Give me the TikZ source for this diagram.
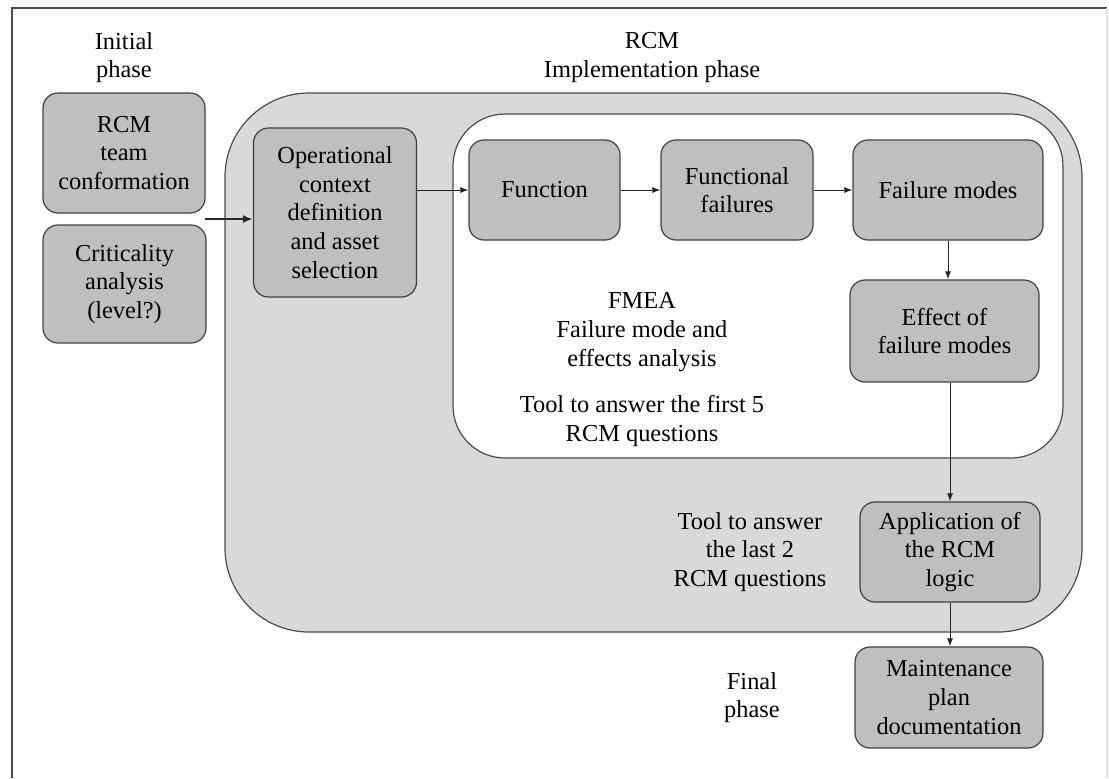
\documentclass[tikz,border=0pt]{standalone}
\usepackage{fontspec}
\IfFontExistsTF{LiberationSerif-Regular.ttf}
  {\setmainfont{LiberationSerif-Regular.ttf}}
  {\setmainfont{DejaVu Serif}}
\usetikzlibrary{arrows.meta}

\begin{document}
\begin{tikzpicture}[x=0.5pt,y=-0.5pt]
    \tikzset{every node/.style={font=\fontsize{12.2}{14.35}\selectfont, align=center}}
    \tikzset{stage/.style={draw=black!75, fill=black!25, rounded corners=7.5pt, line width=0.6pt, inner sep=0pt}}
    \tikzset{flow/.style={-{Latex[length=4pt,width=3pt]}, line width=0.5pt, draw=black!85}}
    % \tikzset{phase/.style={draw=black!70, line width=0.6pt}}
    \useasboundingbox (0,0) rectangle (1109,778);
    \draw[black!70, line width=0.8pt] (12,778) -- (12,8) -- (1107,8);
    \draw[black!12, line width=0.6pt] (1107,8) -- (1107,778);

    % containers
    \node[draw=black!70, fill=black!15, rounded corners=42pt, line width=0.6pt,
          minimum width=428.5pt, minimum height=269.5pt] (impl) at (653.5,362.5) {};
    \node[draw=black!70, fill=white, rounded corners=26pt, line width=0.6pt,
          minimum width=305pt, minimum height=172pt] (fmea) at (758,286) {};

    % boxes
    \node[stage, minimum width=81pt, minimum height=60pt] (team) at (124,153) {RCM\\team\\conformation};
    \node[stage, minimum width=81.5pt, minimum height=59pt] (crit) at (124.5,284) {Criticality\\analysis\\(level?)};
    \node[stage, minimum width=81.5pt, minimum height=84.5pt] (op) at (335,212.5) {Operational\\context\\definition\\and asset\\selection};
    \node[stage, minimum width=75.5pt, minimum height=50pt] (func) at (544.5,190) {Function};
    \node[stage, minimum width=76pt, minimum height=50pt] (ff) at (737,190) {Functional\\failures};
    \node[stage, minimum width=95pt, minimum height=50pt] (fm) at (948,190) {Failure modes};
    \node[stage, minimum width=94.5pt, minimum height=51pt] (eff) at (944.5,331) {Effect of\\failure modes};
    \node[stage, minimum width=90pt, minimum height=50pt] (app) at (950,552) {Application of\\the RCM\\logic};
    \node[stage, minimum width=94pt, minimum height=50.5pt] (maint) at (949,697.5) {Maintenance\\plan\\documentation};

    % labels
    \node (initlbl) at (124,57.5) {Initial\\phase};
    \node (impllbl) at (652,57.5) {RCM\\Implementation phase};
    \node (fmealbl) at (642,332) {FMEA\\Failure mode and\\effects analysis};
    \node (toolfirst) at (642,421) {Tool to answer the first 5\\RCM questions};
    \node (toollast) at (750,552) {Tool to answer\\the last 2\\RCM questions};
    \node (finallbl) at (752,697.5) {Final\\phase};

    % arrows
    \coordinate (join) at (205,219);
    \draw[flow, line width=1.1pt, -{Latex[length=5pt,width=4pt]}] (join) -- (join -| op.west);
    \draw[flow] (op.east |- func) -- (func.west);
    \draw[flow] (func) -- (ff);
    \draw[flow] (ff) -- (fm);
    \draw[flow] (fm.south) -- (fm.south |- eff.north);
    \draw[flow] (app.north |- eff.south) -- (app.north);
    \draw[flow] (app.south) -- (app.south |- maint.north);
\end{tikzpicture}
\end{document}
